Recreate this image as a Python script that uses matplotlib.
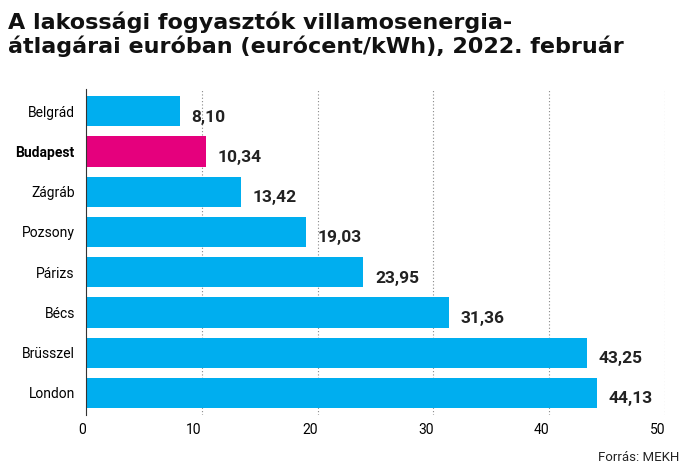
import matplotlib
matplotlib.use("Agg")
import matplotlib.pyplot as plt

cities = ["Belgrád", "Budapest", "Zágráb", "Pozsony", "Párizs", "Bécs", "Brüsszel", "London"]
values = [8.10, 10.34, 13.42, 19.03, 23.95, 31.36, 43.25, 44.13]
labels = ["8,10", "10,34", "13,42", "19,03", "23,95", "31,36", "43,25", "44,13"]
xticks = [0, 10, 20, 30, 40, 50]

plt.rcParams["font.family"] = "Roboto"
fig = plt.figure(figsize=(6.9, 4.76), dpi=100)
ax = fig.add_axes([0.1246, 0.128, 0.8392, 0.685])
colors = ["#E5007D" if c == "Budapest" else "#00AEEF" for c in cities]
y = list(range(len(cities)))
ax.barh(y, values, height=0.75, color=colors, zorder=2)
for yi, v, l in zip(y, values, labels):
    ax.text(v + 1.0, yi + 0.15, l, va="center", ha="left", fontsize=12.5, fontweight="heavy", color="#222222")
ax.set_ylim(7.55, -0.55)
ax.set_xlim(0, 50)
ax.set_yticks(y)
ax.set_yticklabels(cities, fontsize=10)
for t, c in zip(ax.get_yticklabels(), cities):
    if c == "Budapest":
        t.set_fontweight("bold")
ax.set_xticks(xticks)
ax.set_xticklabels([str(x) for x in xticks], fontsize=10, ha="right")
ax.tick_params(length=0, pad=8)
ax.tick_params(axis="x", pad=6)
for x in xticks[1:]:
    ax.axvline(x, color="#888888", linestyle=(0, (1, 2)), linewidth=0.8, zorder=1)
for s in ["top", "right", "bottom"]:
    ax.spines[s].set_visible(False)
ax.spines["left"].set_color("#333333")
ax.spines["left"].set_linewidth(0.8)
fig.text(0.012, 0.975, "A lakossági fogyasztók villamosenergia-\nátlagárai euróban (eurócent/kWh), 2022. február",
         ha="left", va="top", fontsize=16, fontweight="bold", family="DejaVu Sans", color="#111111", linespacing=1.1)
fig.text(0.985, 0.025, "Forrás: MEKH", ha="right", va="bottom", fontsize=9.5, color="#222222")
fig.savefig("out.png", dpi=100)
